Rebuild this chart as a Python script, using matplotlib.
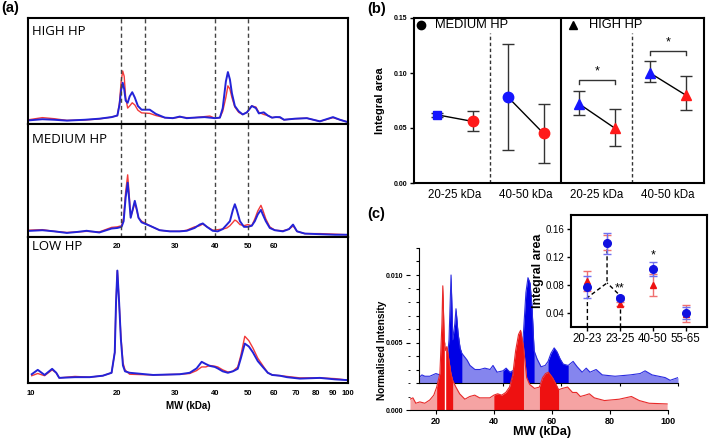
import numpy as np
import matplotlib.pyplot as plt

plt.rcParams['font.family'] = ['Liberation Sans', 'DejaVu Sans']

# ---------------- data: panel (a) spectra (fraction of panel height) ----------------
high_mw = [9.84, 11.0, 12.1, 13.4, 15.5, 17.4, 19.2, 20.1, 20.4, 20.64, 20.86, 21.08, 21.3, 21.6,
           21.9, 22.3, 22.7, 23.2, 23.8, 25.2, 26.3, 28.0, 29.6, 31.1, 32.7, 34.6, 37.2, 38.6, 40.0,
           41.4, 42.2, 43.1, 43.7, 44.3, 44.9, 45.8, 47.0, 48.3, 49.7, 51.4, 52.9, 54.0, 55.9, 57.5,
           59.2, 60.8, 62.6, 64.4, 69.5, 75.3, 82.2, 90.0, 94.5, 99.3]
high_blue = [0.034, 0.045, 0.04, 0.032, 0.04, 0.05, 0.065, 0.08, 0.18, 0.32, 0.39, 0.33, 0.22, 0.20,
             0.26, 0.30, 0.25, 0.17, 0.135, 0.135, 0.095, 0.06, 0.055, 0.07, 0.055, 0.06, 0.065, 0.06, 0.055,
             0.06, 0.15, 0.40, 0.49, 0.42, 0.29, 0.17, 0.12, 0.09, 0.11, 0.17, 0.15, 0.10, 0.11, 0.08,
             0.06, 0.065, 0.065, 0.04, 0.05, 0.055, 0.025, 0.065, 0.04, 0.02]
high_red = [0.04, 0.06, 0.05, 0.034, 0.038, 0.048, 0.065, 0.08, 0.20, 0.40, 0.50, 0.45, 0.25, 0.15,
            0.17, 0.20, 0.18, 0.13, 0.105, 0.10, 0.08, 0.06, 0.055, 0.065, 0.06, 0.06, 0.07, 0.075, 0.055,
            0.06, 0.12, 0.25, 0.36, 0.33, 0.25, 0.16, 0.11, 0.09, 0.11, 0.17, 0.16, 0.11, 0.09, 0.08,
            0.06, 0.065, 0.06, 0.04, 0.05, 0.055, 0.025, 0.06, 0.04, 0.02]

med_mw = [9.84, 11.0, 12.1, 13.4, 14.6, 15.7, 17.4, 19.2, 20.1, 20.7, 21.0, 21.3, 21.6, 21.8, 22.06,
          22.4, 22.7, 23.0, 23.3, 23.8, 25.2, 27.0, 28.98, 31.1, 32.7, 34.6, 35.9, 36.7, 37.8, 39.4,
          40.8, 42.2, 43.4, 44.3, 45.2, 45.8, 46.4, 47.4, 48.7, 50.0, 51.4, 52.5, 53.6, 54.8, 55.5,
          56.7, 58.3, 60.4, 63.9, 66.7, 68.1, 68.6, 70.5, 74.3, 82.2, 91.3, 99.3]
med_blue = [0.054, 0.06, 0.05, 0.036, 0.045, 0.055, 0.04, 0.075, 0.08, 0.09, 0.14, 0.35, 0.48, 0.35, 0.17,
            0.25, 0.32, 0.25, 0.17, 0.13, 0.10, 0.06, 0.05, 0.05, 0.055, 0.08, 0.11, 0.12, 0.09, 0.055,
            0.05, 0.07, 0.11, 0.14, 0.24, 0.29, 0.24, 0.14, 0.09, 0.09, 0.10, 0.14, 0.20, 0.24, 0.20,
            0.14, 0.08, 0.06, 0.05, 0.07, 0.10, 0.11, 0.05, 0.03, 0.025, 0.02, 0.02]
med_red = [0.06, 0.065, 0.05, 0.04, 0.045, 0.05, 0.045, 0.085, 0.09, 0.10, 0.17, 0.40, 0.55, 0.40, 0.18,
           0.24, 0.30, 0.24, 0.17, 0.14, 0.10, 0.06, 0.05, 0.05, 0.06, 0.09, 0.10, 0.115, 0.09, 0.06,
           0.065, 0.07, 0.08, 0.10, 0.13, 0.15, 0.14, 0.11, 0.10, 0.11, 0.10, 0.16, 0.23, 0.28, 0.24,
           0.16, 0.09, 0.06, 0.055, 0.07, 0.09, 0.10, 0.05, 0.03, 0.03, 0.025, 0.02]

low_mw = [10.1, 10.6, 11.2, 11.9, 12.3, 12.6, 14.3, 16.1, 17.9, 19.2, 19.7, 19.9, 20.1, 20.35, 20.6,
          20.9, 21.2, 21.9, 25.8, 31.1, 33.4, 35.1, 36.4, 37.5, 38.6, 40.0, 40.8, 42.2, 43.7, 45.2,
          46.7, 47.7, 48.98, 50.35, 51.8, 53.6, 55.5, 57.5, 59.3, 62.6, 65.7, 71.9, 82.2, 91.3, 99.3]
low_blue = [0.06, 0.09, 0.055, 0.097, 0.07, 0.035, 0.04, 0.04, 0.05, 0.07, 0.21, 0.55, 0.77, 0.55, 0.30,
            0.12, 0.08, 0.07, 0.055, 0.06, 0.07, 0.10, 0.145, 0.13, 0.117, 0.11, 0.10, 0.08, 0.07, 0.08,
            0.097, 0.17, 0.27, 0.25, 0.21, 0.15, 0.11, 0.07, 0.055, 0.05, 0.04, 0.03, 0.035, 0.025, 0.02]
low_red = [0.05, 0.065, 0.05, 0.09, 0.07, 0.035, 0.045, 0.04, 0.05, 0.07, 0.21, 0.55, 0.77, 0.55, 0.32,
           0.14, 0.09, 0.06, 0.055, 0.06, 0.065, 0.085, 0.11, 0.11, 0.12, 0.115, 0.11, 0.09, 0.075, 0.08,
           0.11, 0.19, 0.32, 0.29, 0.24, 0.17, 0.12, 0.07, 0.055, 0.05, 0.045, 0.035, 0.035, 0.03, 0.02]

a_ticks = [10, 20, 30, 40, 50, 60, 70, 80, 90, 100]
a_inner_ticks = [20, 30, 40, 50, 60]
a_bands = [20.6, 24.3, 40, 50]

# ---------------- data: panel (b) ----------------
b_groups = ['20-25 kDa', '40-50 kDa', '20-25 kDa', '40-50 kDa']
b_blue = [0.062, 0.078, 0.072, 0.100]
b_blue_lo = [0.002, 0.048, 0.010, 0.008]
b_blue_hi = [0.002, 0.048, 0.012, 0.011]
b_red = [0.056, 0.045, 0.050, 0.080]
b_red_lo = [0.009, 0.027, 0.016, 0.014]
b_red_hi = [0.009, 0.027, 0.017, 0.017]
b_blue_marker = ['s', 'o', '^', '^']
b_red_marker = ['o', 'o', '^', '^']

# ---------------- data: panel (c) spectra ----------------
c_red_mw = [11.1, 12.1, 13.1, 14.5, 16.2, 17.9, 19.3, 20.3, 21.4, 22.1, 22.4, 22.9, 23.4, 23.8, 24.5,
            25.2, 25.8, 26.9, 28.2, 30.0, 31.7, 33.4, 35.1, 36.8, 38.6, 40.0, 41.3, 42.7, 44.1, 45.4,
            46.5, 47.5, 48.5, 49.2, 50.2, 51.3, 52.3, 54.0, 55.7, 56.8, 57.8, 58.8, 60.2, 61.2, 62.3,
            63.6, 65.4, 67.1, 68.5, 69.8, 71.5, 72.9, 74.6, 78.1, 83.2, 87.4, 90.1, 93.5, 99.7]
c_red = [0.0008, 0.0009, 0.0005, 0.0006, 0.0005, 0.00074, 0.0011, 0.0017, 0.0027, 0.0064, 0.0092, 0.0052,
         0.0044, 0.0047, 0.0037, 0.0027, 0.0022, 0.0017, 0.0012, 0.0008, 0.001, 0.0011, 0.0009, 0.0009,
         0.0009, 0.0011, 0.0012, 0.0011, 0.0013, 0.0017, 0.0026, 0.0044, 0.0056, 0.0059, 0.0047, 0.0024,
         0.0019, 0.0016, 0.0017, 0.0024, 0.0027, 0.0028, 0.0024, 0.002, 0.0015, 0.0016, 0.0017, 0.0013,
         0.0013, 0.001, 0.0011, 0.0012, 0.0009, 0.0007, 0.0008, 0.001, 0.0007, 0.0005, 0.00045]
c_blue_mw = [11.1, 12.1, 13.1, 14.8, 16.9, 18.3, 19.7, 20.7, 21.4, 22.1, 22.7, 23.4, 23.8, 24.5, 25.2,
             25.8, 27.6, 28.6, 30.3, 32.0, 33.7, 35.5, 36.5, 37.9, 39.9, 41.0, 42.3, 44.1, 45.8, 46.8,
             47.8, 48.5, 49.2, 49.9, 50.6, 51.6, 53.0, 54.4, 55.4, 56.4, 57.5, 58.5, 59.5, 60.6, 62.3,
             64.0, 65.4, 67.1, 68.5, 69.8, 71.9, 74.0, 78.4, 83.6, 87.0, 88.7, 91.1, 95.6, 97.3, 100.0]
c_blue = [0.0004, 0.0006, 0.0005, 0.0005, 0.0007, 0.0006, 0.0007, 0.0015, 0.0032, 0.0080, 0.0032, 0.0044,
          0.0055, 0.0037, 0.0026, 0.0022, 0.0017, 0.0013, 0.001, 0.001, 0.0011, 0.001, 0.0013, 0.0008,
          0.0009, 0.0011, 0.0008, 0.001, 0.0015, 0.0032, 0.0067, 0.0078, 0.0074, 0.0056, 0.0024, 0.0018,
          0.0012, 0.0013, 0.0016, 0.0022, 0.0026, 0.0023, 0.0018, 0.0014, 0.0013, 0.0016, 0.0012, 0.0008,
          0.0011, 0.0008, 0.001, 0.0006, 0.0005, 0.0006, 0.0007, 0.0009, 0.0006, 0.0004, 0.0002, 0.0004]
c_red_bands = [(20.3, 25.8), (40.0, 50.2), (55.7, 62.3)]
c_blue_bands = [(20.7, 25.8), (39.9, 50.6), (55.4, 62.3)]
c_split = 23.1

# inset
ins_labels = ['20-23', '23-25', '40-50', '55-65']
ins_blue = [0.077, 0.061, 0.103, 0.040]
ins_blue_err = [0.016, 0.003, 0.010, 0.009]
ins_red = [0.086, 0.053, 0.080, 0.039]
ins_red_err = [0.014, 0.003, 0.016, 0.012]
sum_blue, sum_blue_err = 0.140, 0.015
sum_red, sum_red_err = 0.141, 0.011

# ---------------- layout helpers ----------------
W, H = 709, 440
fig = plt.figure(figsize=(W / 100, H / 100), dpi=100)


def box(x0, y0, x1, y1):
    return [x0 / W, 1 - y1 / H, (x1 - x0) / W, (y1 - y0) / H]


# gel-like MW axis of panel (a)
knot_mw = np.log10([8, 10, 20, 30, 40, 50, 60, 70, 80, 90, 100, 120])
knot_px = [3.3, 31, 117, 175, 215, 248, 274, 296, 316, 333, 348, 374]


def fwd(v):
    return np.interp(np.log10(np.clip(v, 1, None)), knot_mw, knot_px)


def inv(p):
    return 10 ** np.interp(p, knot_px, knot_mw)


BLUE_A, RED_A = '#2323d8', '#f23a3a'
panels = [(box(28, 18, 348, 124), high_mw, high_blue, high_red, 'HIGH HP', 0.93),
          (box(28, 124, 348, 237), med_mw, med_blue, med_red, 'MEDIUM HP', 0.92),
          (box(28, 237, 348, 383), low_mw, low_blue, low_red, 'LOW HP', 0.98)]
for i, (rect, mw, bl, rd, name, ty) in enumerate(panels):
    ax = fig.add_axes(rect)
    ax.set_xscale('function', functions=(fwd, inv))
    ax.plot(mw, rd, color=RED_A, lw=1.0)
    ax.plot(mw, bl, color=BLUE_A, lw=1.4)
    ax.set_xlim(9.8, 100)
    ax.set_ylim(0, 1)
    ax.set_yticks([])
    for s in ax.spines.values():
        s.set_linewidth(1.5)
    ax.text(0.013, ty, name, transform=ax.transAxes, va='top', ha='left',
            fontsize=9.5, family='Open Sans')
    if i < 2:
        ax.set_xticks([])
        for v in a_bands:
            ax.axvline(v, color='#444444', lw=1.0, dashes=(3, 2.2))
    else:
        ax.set_xticks(a_ticks)
        ax.set_xticklabels([str(t) for t in a_ticks], fontsize=5.5, fontweight='bold')
        ax.xaxis.set_minor_locator(plt.NullLocator())
        ax.tick_params(axis='x', length=0, pad=5)
        ax.set_xlabel('MW (kDa)', fontsize=7, fontweight='bold', labelpad=3)
        for t in a_inner_ticks:
            ax.text(t, 0.935, str(t), transform=ax.get_xaxis_transform(),
                    ha='center', va='center', fontsize=5.5, fontweight='bold')

# ---------------- panel (b) ----------------
BLUE, RED = '#1616ff', '#ff1a1a'
axb = fig.add_axes(box(414, 18, 704, 183))
for i in range(4):
    xb, xr = 2 * i, 2 * i + 1
    axb.plot([xb, xr], [b_blue[i], b_red[i]], color='black', lw=1, zorder=2)
    axb.errorbar(xb, b_blue[i], yerr=[[b_blue_lo[i]], [b_blue_hi[i]]], fmt='none',
                 ecolor='#333333', elinewidth=1, capsize=4, zorder=1)
    axb.errorbar(xr, b_red[i], yerr=[[b_red_lo[i]], [b_red_hi[i]]], fmt='none',
                 ecolor='#333333', elinewidth=1, capsize=4, zorder=1)
    ms_b = 6 if b_blue_marker[i] == 's' else 7.5
    axb.plot(xb, b_blue[i], marker=b_blue_marker[i], ms=ms_b, color=BLUE, zorder=3, ls='none')
    axb.plot(xr, b_red[i], marker=b_red_marker[i], ms=7.5, color=RED, zorder=3, ls='none')

axb.axvline(3.5, color='black', lw=1.5)
for v in (1.5, 5.5):
    axb.plot([v, v], [0, 0.136], color='#333333', lw=1, dashes=(2.5, 1.8))

# significance brackets
for (x0, x1, yb) in [(4, 5, 0.094), (6, 7, 0.120)]:
    axb.plot([x0, x0, x1, x1], [yb - 0.004, yb, yb, yb - 0.004], color='#333333', lw=1)
    axb.text((x0 + x1) / 2, yb + 0.002, '*', ha='center', va='bottom', fontsize=9)

axb.plot(-0.45, 0.1435, marker='o', ms=6, color='black', ls='none')
axb.text(-0.07, 0.1435, 'MEDIUM HP', va='center', ha='left', fontsize=9.3)
axb.plot(3.84, 0.1435, marker='^', ms=6, color='black', ls='none')
axb.text(4.28, 0.1435, 'HIGH HP', va='center', ha='left', fontsize=9.3)

axb.set_xlim(-0.65, 7.52)
axb.set_ylim(0, 0.15)
axb.set_yticks([0, 0.05, 0.10, 0.15])
axb.set_yticklabels(['0.00', '0.05', '0.10', '0.15'], fontsize=5, fontweight='bold')
axb.set_xticks([0.5, 2.5, 4.5, 6.5])
axb.set_xticklabels(b_groups, fontsize=8.3)
axb.tick_params(axis='x', length=0, pad=4)
axb.tick_params(axis='y', length=3, width=1, pad=2)
axb.set_ylabel('Integral area', fontsize=8, fontweight='bold', labelpad=6)
for s in axb.spines.values():
    s.set_linewidth(1.5)

# ---------------- panel (c) ----------------
axc_b = fig.add_axes(box(419, 248, 678, 383), zorder=1)
axc_b.patch.set_alpha(0)
axc_b.fill_between(c_blue_mw, c_blue, color='#8585ee', lw=0)
bmw = np.array(c_blue_mw)
for lo, hi in c_blue_bands:
    axc_b.fill_between(c_blue_mw, c_blue, where=(bmw >= lo) & (bmw <= hi), color='#0000e6', lw=0)
axc_b.plot(c_blue_mw, c_blue, color='#2a2ae0', lw=0.8)
axc_b.set_xlim(11.1, 100)
axc_b.set_ylim(0, 0.010)
axc_b.spines['top'].set_visible(False)
axc_b.spines['right'].set_visible(False)
axc_b.set_yticks(np.arange(0, 0.0101, 0.001))
axc_b.set_yticklabels([])
axc_b.set_xticks([20, 40, 60, 80, 100])
axc_b.set_xticklabels([])
axc_b.tick_params(length=2, width=0.8)

axc = fig.add_axes(box(410, 275, 668, 410), zorder=2)
axc.patch.set_alpha(0)
axc.fill_between(c_red_mw, c_red, color='#f5a3a3', lw=0)
rmw = np.array(c_red_mw)
for lo, hi in c_red_bands:
    axc.fill_between(c_red_mw, c_red, where=(rmw >= lo) & (rmw <= hi), color='#ee1111', lw=0)
axc.vlines(c_split, 0, np.interp(c_split, c_red_mw, c_red), color='white', lw=1)
axc.plot(c_red_mw, c_red, color='#e82a2a', lw=0.8)
axc.set_xlim(11.1, 100)
axc.set_ylim(0, 0.010)
axc.spines['top'].set_visible(False)
axc.spines['right'].set_visible(False)
axc.spines['left'].set_visible(False)
axc.set_yticks([0, 0.005, 0.010])
axc.set_yticklabels(['0.000', '0.005', '0.010'], fontsize=5, fontweight='bold')
axc.set_yticks(np.arange(0, 0.0101, 0.001), minor=True)
axc.set_xticks([20, 40, 60, 80, 100])
axc.set_xticklabels(['20', '40', '60', '80', '100'], fontsize=6.5, fontweight='bold')
axc.tick_params(length=3, width=0.8, pad=2)
axc.tick_params(which='minor', length=1.5, width=0.6)
fig.text(382 / W, 1 - 350 / H, 'Normalised Intensity', rotation=90, ha='center', va='center',
         fontsize=7.3, fontweight='bold')
fig.text(542 / W, 1 - 432 / H, 'MW (kDa)', ha='center', va='center', fontsize=9.2, fontweight='bold')

# inset
axi = fig.add_axes(box(571, 215, 707, 327), zorder=3)
xs = np.arange(len(ins_labels))
axi.plot([0, 0, 0.6, 0.6], [0.02, 0.062, 0.083, 0.134], color='black', lw=1, dashes=(3, 2))
axi.plot([1, 1], [0.02, 0.058], color='black', lw=1, dashes=(3, 2))
axi.plot([0.93, 0.6], [0.068, 0.083], color='black', lw=1, dashes=(3, 2))
axi.errorbar(xs, ins_red, yerr=ins_red_err, fmt='none', ecolor='#f07070', elinewidth=1, capsize=3)
axi.errorbar(xs, ins_blue, yerr=ins_blue_err, fmt='none', ecolor='#7070f0', elinewidth=1, capsize=3)
axi.errorbar([0.6], [sum_red], yerr=[sum_red_err], fmt='none', ecolor='#f07070', elinewidth=1, capsize=3)
axi.errorbar([0.6], [sum_blue], yerr=[sum_blue_err], fmt='none', ecolor='#7070f0', elinewidth=1, capsize=3)
axi.plot(xs, ins_red, '^', ms=5, color='#ee1111', ls='none')
axi.plot([0.6], [sum_red], '^', ms=5, color='#ee1111', ls='none')
axi.plot(xs, ins_blue, 'o', ms=5.5, color='#1010e0', ls='none')
axi.plot([0.6], [sum_blue], 'o', ms=5.5, color='#1010e0', ls='none')
axi.text(0.97, 0.066, '**', ha='center', va='bottom', fontsize=9)
axi.text(2, 0.113, '*', ha='center', va='bottom', fontsize=9)
axi.set_xlim(-0.5, 3.65)
axi.set_ylim(0.02, 0.18)
axi.set_yticks([0.04, 0.08, 0.12, 0.16])
axi.set_yticklabels(['0.04', '0.08', '0.12', '0.16'], fontsize=7)
axi.set_xticks(xs)
axi.set_xticklabels(ins_labels, fontsize=8.3)
axi.tick_params(length=3, width=1, pad=1.5)
axi.set_ylabel('Integral area', fontsize=9, fontweight='bold', labelpad=1)
for s in axi.spines.values():
    s.set_linewidth(1.5)

# panel letters
fig.text(10 / W, 1 - 8 / H, '(a)', ha='center', va='center', fontsize=10.5, fontweight='bold')
fig.text(377 / W, 1 - 9 / H, '(b)', ha='center', va='center', fontsize=10.5, fontweight='bold')
fig.text(376 / W, 1 - 214 / H, '(c)', ha='center', va='center', fontsize=10.5, fontweight='bold')

fig.savefig('out.png', dpi=100)
